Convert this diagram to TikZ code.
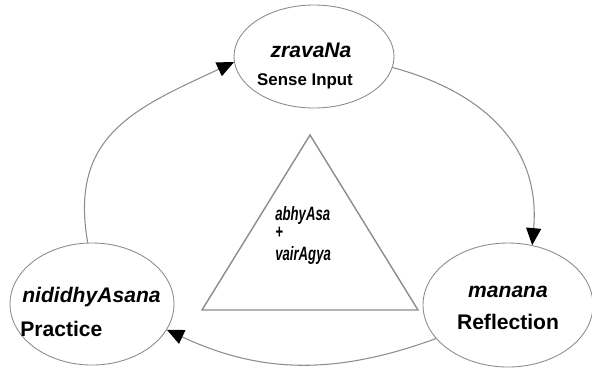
\documentclass[tikz,border=0pt]{standalone}
\usepackage{xcolor}
\usepackage{fontspec}
\setmainfont{Liberation Sans}
\newfontfamily\narrowfont[FakeStretch=0.68]{Liberation Sans}
\usepackage{tikz}
\usetikzlibrary{shapes,arrows.meta,positioning,calc,shapes.geometric}
\definecolor{linegray}{RGB}{140,140,140}

\begin{document}
\begin{tikzpicture}[font=\large\bfseries,
    stage/.style={draw=linegray, line width=0.5pt, ellipse, inner sep=0pt},
    sktname/.style={font=\large\bfseries\itshape},
    engname/.style={font=\large\bfseries},
    virtue/.style={font=\narrowfont\fontsize{11}{12}\selectfont\bfseries\itshape, anchor=west, inner sep=0pt},
    flow/.style={draw=linegray, line width=0.6pt,
                 -{Triangle[length=0.34cm, width=0.3cm, color=black]}}]
  \useasboundingbox (0,0) rectangle (11.84,-7.44);

  % Stages
  \node[stage, minimum width=3.2cm, minimum height=2.06cm] (srav) at (6.28,-1.13) {};
  \node[stage, minimum width=3.28cm, minimum height=2.44cm] (nidi) at (1.84,-6.08) {};
  \node[stage, minimum width=3.4cm, minimum height=2.48cm] (mana) at (10.16,-6.10) {};

  % Stage labels
  \node[sktname] (sravname) at (6.22,-1.0) {zravaNa};
  \node[engname, font=\fontsize{9.6}{11}\selectfont\bfseries] (sravtext) at (6.10,-1.62) {Sense Input};
  \node[sktname, anchor=west, inner sep=0pt] (nidiname) at (0.44,-5.94) {nididhyAsana};
  \node[engname, anchor=west, inner sep=0pt] (niditext) at (0.40,-6.58) {Practice};
  \node[sktname] (mananame) at (10.16,-5.84) {manana};
  \node[engname] (manatext) at (10.16,-6.44) {Reflection};

  % Triangle in the middle
  \draw[linegray, line width=0.8pt] (6.2,-2.7) -- (4.04,-6.2) -- (8.36,-6.2) -- cycle;
  \node[virtue] (abhy) at (5.5,-4.30) {abhyAsa};
  \node[virtue] (plus) at (5.5,-4.66) {+};
  \node[virtue] (vair) at (5.5,-5.10) {vairAgya};

  % Cycle
  \draw[flow] (nidi.94) to[out=100, in=205, looseness=1.2] (srav.184);
  \draw[flow] (srav.-8) to[out=-15, in=85, looseness=1.1] (mana.68);
  \draw[flow] (mana.205) to[out=200, in=-25] (nidi.-19);
\end{tikzpicture}
\end{document}
